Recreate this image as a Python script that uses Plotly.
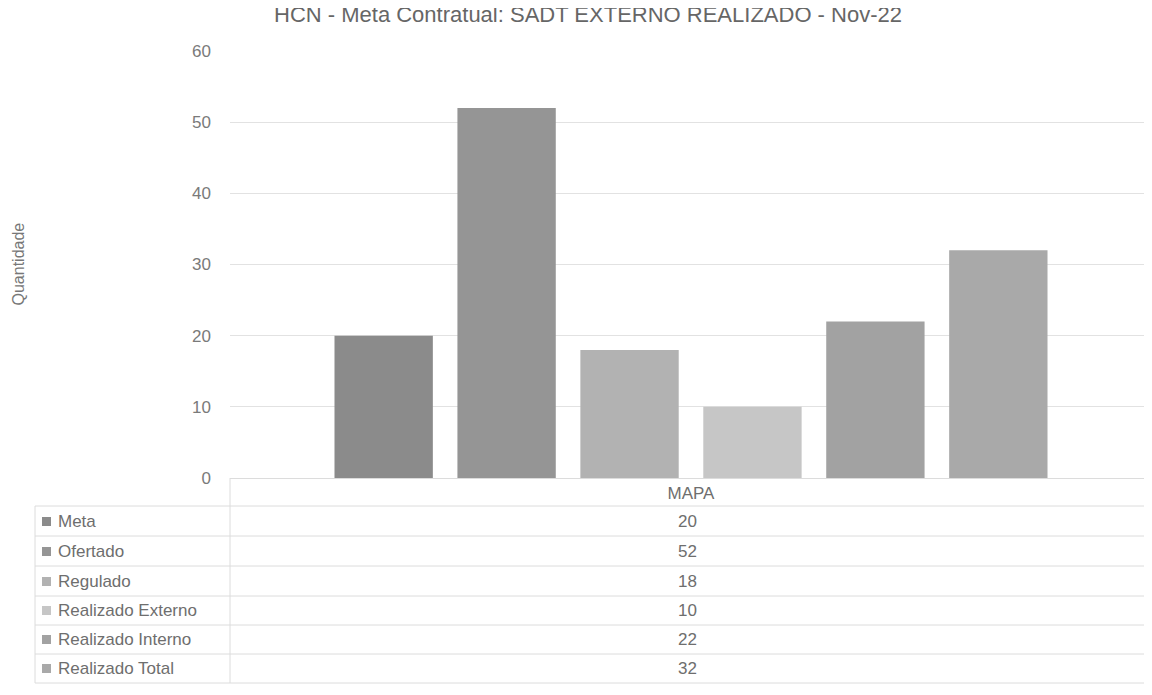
import plotly.graph_objects as go

category = "MAPA"
series_names = ["Meta", "Ofertado", "Regulado", "Realizado Externo", "Realizado Interno", "Realizado Total"]
series_values = [20, 52, 18, 10, 22, 32]
series_colors = ["#8b8b8b", "#959595", "#b2b2b2", "#c6c6c6", "#a2a2a2", "#a9a9a9"]
y_ticks = [0, 10, 20, 30, 40, 50, 60]
chart_title = "HCN - Meta Contratual: SADT EXTERNO REALIZADO - Nov-22"

# page body has an 8px margin, so the figure is drawn 8px smaller and all
# positions below are given in screen pixels and shifted by OFF
OFF = 8
W, H = 1152 - OFF, 695 - OFF
L, R, T, B = 230 - OFF, 0, 51 - OFF, 217
plot_w = W - L - R
plot_h = H - T - B


def px(x):
    return (x - OFF - L) / plot_w


def py(y):
    return (H - B - (y - OFF)) / plot_h


fig = go.Figure()
for name, val, col in zip(series_names, series_values, series_colors):
    fig.add_trace(go.Bar(x=[category], y=[val], name=name, marker=dict(color=col, line=dict(width=0))))

# data table below the plot
row_text_y = [521, 551, 581, 610, 639, 668]
row_lines = [506, 536, 566, 596, 625, 654, 683]
line_col = "#dcdcdc"
txt_col = "#6e6e6e"
shapes = []
for yl in row_lines:
    shapes.append(dict(type="line", xref="paper", yref="paper", x0=px(35), x1=px(1152), y0=py(yl), y1=py(yl),
                       line=dict(color=line_col, width=1)))
shapes.append(dict(type="line", xref="paper", yref="paper", x0=px(230), x1=px(230), y0=py(478), y1=py(683),
                   line=dict(color=line_col, width=1)))
shapes.append(dict(type="line", xref="paper", yref="paper", x0=px(35), x1=px(35), y0=py(506), y1=py(683),
                   line=dict(color=line_col, width=1)))

annotations = []
for name, val, col, yy in zip(series_names, series_values, series_colors, row_text_y):
    shapes.append(dict(type="rect", xref="paper", yref="paper", x0=px(42), x1=px(51), y0=py(yy - 4), y1=py(yy + 5),
                       fillcolor=col, line=dict(width=0)))
    annotations.append(dict(text=name, xref="paper", yref="paper", x=px(56), y=py(yy), xanchor="left",
                            yanchor="middle", showarrow=False, font=dict(size=17, color=txt_col)))
    annotations.append(dict(text=str(val), xref="paper", yref="paper", x=px(687), y=py(yy), xanchor="center",
                            yanchor="middle", showarrow=False, font=dict(size=17, color=txt_col)))

annotations.append(dict(text="Quantidade", xref="paper", yref="paper", x=px(18), y=0.5, textangle=-90,
                        xanchor="center", yanchor="middle", showarrow=False, font=dict(size=16, color="#777777")))

# chart title
annotations.append(dict(text=chart_title, xref="paper", yref="paper", x=px(588), y=py(15),
                        xanchor="center", yanchor="middle", showarrow=False,
                        font=dict(size=22, color="#666666")))

fig.update_layout(
    width=W, height=H,
    margin=dict(l=L, r=R, t=T, b=B),
    paper_bgcolor="white", plot_bgcolor="white",
    font=dict(family="Liberation Sans, Arial, sans-serif", color=txt_col),
    barmode="group", bargap=0.2, bargroupgap=0.2,
    showlegend=False,
    shapes=shapes, annotations=annotations,
)
fig.update_xaxes(showgrid=False, showline=True, linecolor=line_col, ticks="",
                 tickfont=dict(size=17, color=txt_col), automargin=False)
fig.update_yaxes(range=[0, 60], tickvals=y_ticks, showgrid=True, gridcolor="#e2e2e2", zeroline=False,
                 showline=False, ticklabelstandoff=18, tickfont=dict(size=17, color="#7a7a7a"), automargin=False)

fig.write_html("out.html")
